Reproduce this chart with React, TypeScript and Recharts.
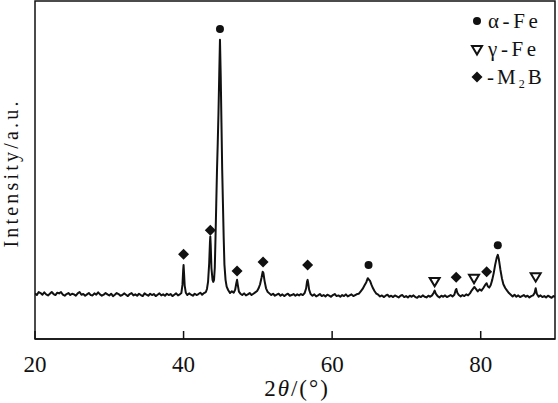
import React from "react";
import { ComposedChart, Line, Scatter, XAxis, YAxis, ReferenceArea } from "recharts";

const FONT = '"Liberation Serif", "Times New Roman", "DejaVu Serif", serif';

// XRD pattern: [2theta, intensity (a.u., 0-100 scale)]
const seg20to40: [number, number][] = [
  [20.0, 13.5], [20.25, 13.0], [20.5, 13.9], [20.75, 13.6], [21.0, 13.1], [21.25, 13.8], [21.5, 13.2], [21.75, 12.9],
  [22.0, 13.4], [22.25, 13.9], [22.5, 13.3], [22.75, 13.0], [23.0, 13.7], [23.25, 13.5], [23.5, 13.9], [23.75, 13.1],
  [24.0, 12.8], [24.25, 13.3], [24.5, 13.6], [24.75, 13.0], [25.0, 13.4], [25.25, 13.2], [25.5, 12.8], [25.75, 13.5],
  [26.0, 13.9], [26.25, 13.1], [26.5, 13.3], [26.75, 12.8], [27.0, 13.2], [27.25, 13.6], [27.5, 13.0], [27.75, 12.9],
  [28.0, 13.5], [28.25, 13.1], [28.5, 13.8], [28.75, 13.2], [29.0, 12.8], [29.25, 13.1], [29.5, 13.6], [29.75, 13.2],
  [30.0, 12.9], [30.25, 13.4], [30.5, 12.7], [30.75, 13.1], [31.0, 13.6], [31.25, 13.3], [31.5, 12.8], [31.75, 13.0],
  [32.0, 13.5], [32.25, 13.1], [32.5, 12.7], [32.75, 13.3], [33.0, 13.6], [33.25, 12.9], [33.5, 13.2], [33.75, 12.8],
  [34.0, 13.4], [34.25, 13.0], [34.5, 12.7], [34.75, 13.5], [35.0, 13.1], [35.25, 12.8], [35.5, 13.4], [35.75, 13.0],
  [36.0, 13.3], [36.25, 12.7], [36.5, 13.1], [36.75, 13.5], [37.0, 12.9], [37.25, 13.2], [37.5, 12.8], [37.75, 13.4],
  [38.0, 13.0], [38.25, 13.3], [38.5, 12.7], [38.75, 13.1], [39.0, 13.5], [39.25, 12.9], [39.5, 13.2],
];

const seg40to57: [number, number][] = [
  [39.7, 13.6], [39.85, 16.0], [39.95, 20.5], [40.0, 21.9], [40.05, 20.0], [40.15, 15.8], [40.3, 13.7],
  [40.5, 13.0], [40.75, 13.5], [41.0, 13.1], [41.25, 12.8], [41.5, 13.4], [41.75, 13.0], [42.0, 13.3],
  [42.25, 13.7], [42.5, 13.1], [42.75, 13.6], [43.0, 13.9], [43.15, 14.8], [43.3, 17.0], [43.45, 22.5],
  [43.55, 28.5], [43.6, 30.3], [43.65, 28.0], [43.75, 21.0], [43.9, 17.5], [44.0, 16.9], [44.1, 17.5],
  [44.2, 21.0], [44.3, 30.0], [44.4, 40.0], [44.5, 50.0], [44.6, 58.0], [44.7, 67.0], [44.8, 78.0],
  [44.9, 88.5], [45.0, 78.0], [45.1, 64.0], [45.2, 50.0], [45.3, 40.0], [45.4, 30.0], [45.5, 22.0],
  [45.65, 17.5], [45.8, 15.5], [46.0, 14.5], [46.25, 13.6], [46.5, 14.1], [46.75, 13.7], [46.95, 14.6],
  [47.1, 16.5], [47.2, 17.5], [47.3, 16.0], [47.45, 14.0], [47.65, 13.4], [47.9, 13.0], [48.15, 13.5],
  [48.4, 12.9], [48.65, 13.2], [48.9, 13.6], [49.15, 13.0], [49.4, 13.4], [49.65, 13.8], [49.9, 14.2],
  [50.1, 15.0], [50.3, 16.2], [50.5, 18.2], [50.65, 19.9], [50.75, 19.5], [50.9, 17.2], [51.1, 15.0],
  [51.3, 14.0], [51.55, 13.5], [51.8, 13.0], [52.05, 13.4], [52.3, 12.8], [52.55, 13.1], [52.8, 13.4],
  [53.05, 12.8], [53.3, 13.2], [53.55, 12.7], [53.8, 13.1], [54.05, 13.4], [54.3, 12.8], [54.55, 13.0],
  [54.8, 13.3], [55.05, 12.8], [55.3, 13.2], [55.55, 12.9], [55.8, 13.3], [56.05, 13.0], [56.3, 13.6],
  [56.5, 15.0], [56.62, 17.0], [56.7, 17.5], [56.78, 16.5], [56.9, 14.6], [57.1, 13.3],
];

const seg57to74: [number, number][] = [
  [57.35, 12.8], [57.6, 13.2], [57.85, 12.6], [58.1, 12.9], [58.35, 13.3], [58.6, 12.7], [58.85, 13.0],
  [59.1, 12.6], [59.35, 13.1], [59.6, 12.8], [59.85, 12.5], [60.1, 13.0], [60.35, 13.3], [60.6, 12.7],
  [60.85, 12.9], [61.1, 12.5], [61.35, 13.0], [61.6, 12.7], [61.85, 13.2], [62.1, 12.6], [62.35, 12.9],
  [62.6, 13.2], [62.85, 12.7], [63.1, 13.0], [63.35, 13.3], [63.6, 13.4], [63.85, 14.1], [64.1, 14.8],
  [64.35, 15.8], [64.6, 16.8], [64.8, 18.0], [64.95, 17.6], [65.1, 17.2], [65.3, 16.0], [65.5, 15.0],
  [65.7, 14.2], [65.95, 13.4], [66.2, 13.1], [66.45, 12.6], [66.7, 12.9], [66.95, 12.4], [67.2, 12.8],
  [67.45, 13.1], [67.7, 12.5], [67.95, 12.8], [68.2, 12.4], [68.45, 12.9], [68.7, 12.6], [68.95, 12.3],
  [69.2, 12.8], [69.45, 13.0], [69.7, 12.4], [69.95, 12.7], [70.2, 12.3], [70.45, 12.8], [70.7, 12.5],
  [70.95, 12.9], [71.2, 12.4], [71.45, 12.2], [71.7, 12.7], [71.95, 12.4], [72.2, 12.9], [72.45, 12.5],
  [72.7, 12.3], [72.95, 12.8], [73.2, 12.5], [73.45, 12.9], [73.65, 13.6], [73.8, 14.3], [73.95, 13.4],
];

const seg74to90: [number, number][] = [
  [74.2, 12.7], [74.45, 12.3], [74.7, 12.8], [74.95, 12.5], [75.2, 12.9], [75.45, 12.4], [75.7, 12.7],
  [75.95, 13.0], [76.2, 12.6], [76.45, 13.1], [76.62, 14.4], [76.72, 14.8], [76.85, 13.7], [77.05, 13.0],
  [77.3, 12.6], [77.55, 13.0], [77.8, 12.7], [78.05, 13.2], [78.3, 12.9], [78.55, 13.5], [78.8, 14.4],
  [79.0, 15.0], [79.15, 15.4], [79.35, 14.8], [79.6, 14.1], [79.85, 14.7], [80.1, 14.3], [80.35, 15.1],
  [80.6, 16.0], [80.8, 16.5], [80.95, 15.6], [81.15, 15.2], [81.35, 16.0], [81.55, 17.5], [81.75, 19.5],
  [81.95, 22.0], [82.15, 24.0], [82.3, 24.9], [82.45, 23.5], [82.65, 20.5], [82.85, 18.0], [83.05, 16.2],
  [83.3, 15.1], [83.55, 14.3], [83.8, 13.6], [84.05, 13.1], [84.3, 12.6], [84.55, 13.1], [84.8, 12.5],
  [85.05, 12.9], [85.3, 12.4], [85.55, 12.7], [85.8, 13.0], [86.05, 12.5], [86.3, 12.8], [86.55, 12.3],
  [86.8, 12.7], [87.05, 12.9], [87.25, 13.6], [87.4, 15.0], [87.55, 13.4], [87.8, 12.5], [88.05, 12.9],
  [88.3, 12.4], [88.55, 12.7], [88.8, 12.3], [89.05, 12.8], [89.3, 12.5], [89.55, 12.2], [89.8, 12.7],
  [90.0, 12.5],
];

// phase markers [2theta, marker height]
const alphaFe: [number, number][] = [[44.9, 91.7], [64.9, 21.9], [82.3, 27.7]];
const gammaFe: [number, number][] = [[73.8, 16.9], [79.1, 17.8], [87.4, 18.3]];
const m2B: [number, number][] = [
  [40.0, 25.1], [43.6, 32.2], [47.2, 20.1], [50.7, 22.8], [56.7, 21.9], [76.7, 18.3], [80.8, 19.9],
];

const xTicks = [20, 40, 60, 80];

const toRows = (a: [number, number][]) => a.map(([x, y]) => ({ x, y }));
const pattern = toRows([...seg20to40, ...seg40to57, ...seg57to74, ...seg74to90]);

const DotShape = (p: any) => <circle cx={p.cx} cy={p.cy} r={4} fill="#111" />;
const TriShape = (p: any) => (
  <path
    d={`M${p.cx - 5},${p.cy - 4} L${p.cx + 5},${p.cy - 4} L${p.cx},${p.cy + 4.5} Z`}
    fill="#fff"
    stroke="#111"
    strokeWidth={2}
  />
);
const DiaShape = (p: any) => (
  <path
    d={`M${p.cx},${p.cy - 5.5} L${p.cx + 5.5},${p.cy} L${p.cx},${p.cy + 5.5} L${p.cx - 5.5},${p.cy} Z`}
    fill="#111"
  />
);

const XTick = (p: any) => (
  <text x={p.x} y={372} textAnchor="middle" fontFamily={FONT} fontSize={23} fill="#111">
    {p.payload.value}
  </text>
);

export default function App() {
  return (
    <div style={{ position: "absolute", left: 0, top: 0, width: 558, height: 403, background: "#fff" }}>
      <ComposedChart width={558} height={403} margin={{ top: 1, right: 3, left: 35, bottom: 0 }}>
        <XAxis
          type="number"
          dataKey="x"
          domain={[20, 90]}
          ticks={xTicks}
          allowDataOverflow
          height={64}
          tickSize={-8}
          tickMargin={0}
          tick={<XTick />}
          axisLine={{ stroke: "#111", strokeWidth: 1.5 }}
          tickLine={{ stroke: "#111", strokeWidth: 1.5 }}
        />
        <YAxis type="number" dataKey="y" domain={[0, 100]} hide allowDataOverflow />
        <ReferenceArea x1={20} x2={90} y1={0} y2={100} fill="none" stroke="#111" strokeWidth={1.5} />
        <Line
          data={pattern}
          dataKey="y"
          type="linear"
          stroke="#111"
          strokeWidth={2}
          strokeLinejoin="round"
          dot={false}
          isAnimationActive={false}
        />
        <Scatter data={toRows(alphaFe)} shape={<DotShape />} isAnimationActive={false} />
        <Scatter data={toRows(gammaFe)} shape={<TriShape />} isAnimationActive={false} />
        <Scatter data={toRows(m2B)} shape={<DiaShape />} isAnimationActive={false} />
      </ComposedChart>
      <svg
        width={558}
        height={403}
        style={{ position: "absolute", left: 0, top: 0, pointerEvents: "none" }}
        fontFamily={FONT}
        fill="#111"
      >
        <text
          transform="translate(18,173) rotate(-90)"
          textAnchor="middle"
          fontSize={20}
          letterSpacing={3.2}
        >
          Intensity/a.u.
        </text>
        <text x={297} y={396} textAnchor="middle" fontSize={23} letterSpacing={2}>
          2<tspan fontStyle="italic">θ</tspan>/(°)
        </text>
        <circle cx={477} cy={21} r={4} fill="#111" />
        <text x={488} y={28} fontSize={21} letterSpacing={3.6}>α-Fe</text>
        <path d="M472,46 L482,46 L477,54.5 Z" fill="#fff" stroke="#111" strokeWidth={2} />
        <text x={488} y={56} fontSize={21} letterSpacing={3.6}>γ-Fe</text>
        <path d="M477,71.5 L482.5,77 L477,82.5 L471.5,77 Z" fill="#111" />
        <text x={487} y={84} fontSize={21} letterSpacing={3}>
          -M<tspan fontSize={12} dy={4}>2</tspan>
          <tspan dy={-4}>B</tspan>
        </text>
      </svg>
    </div>
  );
}
